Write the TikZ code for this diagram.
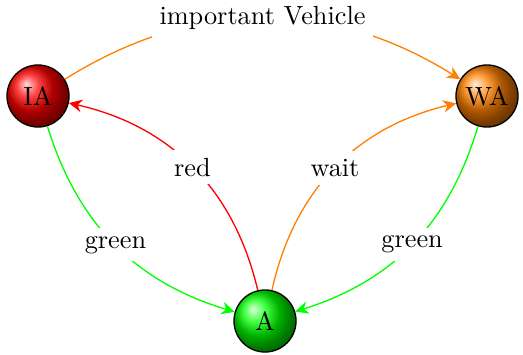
\documentclass[tikz,border=0pt]{standalone}
\usetikzlibrary{arrows.meta,shadings}
\begin{document}
\begin{tikzpicture}[x=0.3805pt,y=-0.3805pt,
  state/.style={circle,draw=black,line width=0.5pt,minimum size=23.6pt,inner sep=0pt},
  edge/.style={line width=0.5pt,-{Stealth[length=5pt,width=4.8pt,inset=1.6pt]}},
  lbl/.style={fill=white,text=black,inner sep=3pt}]
\useasboundingbox (0,0) rectangle (523,354);
\node[state,ball color=red] (IA) at (38,96) {IA};
\node[state,ball color=orange] (WA) at (487,96) {WA};
\node[state,ball color=green] (A) at (265,321) {A};
\draw[edge,orange] (IA) to[bend left=32] node[lbl]{important Vehicle} (WA);
\draw[edge,red] (A) to[bend right=32] node[lbl]{red} (IA);
\draw[edge,orange] (A) to[bend left=32] node[lbl]{wait} (WA);
\draw[edge,green] (IA) to[bend right=28] node[lbl]{green} (A);
\draw[edge,green] (WA) to[bend left=28] node[lbl]{green} (A);
\end{tikzpicture}
\end{document}
